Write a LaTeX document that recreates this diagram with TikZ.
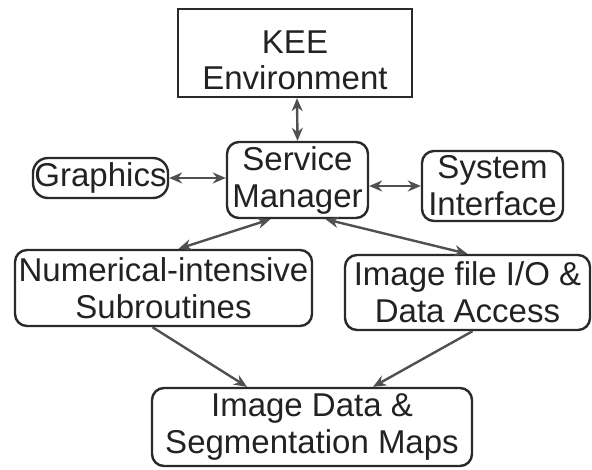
\documentclass[tikz,border=0pt]{standalone}
\usepackage{fontspec}
\setmainfont{Liberation Sans}
\usetikzlibrary{arrows.meta}
\definecolor{boxline}{HTML}{2A2A2A}
\definecolor{arrowline}{HTML}{505050}
\definecolor{txt}{HTML}{222222}
\tikzset{
  blk/.style={draw=boxline, line width=2.4pt, inner sep=0pt, align=center,
    text=txt, font=\fontsize{33}{37}\selectfont},
  rbox/.style={blk, rounded corners=12pt},
  link/.style={draw=arrowline, line width=2.4pt,
    -{Stealth[length=13pt,width=11pt]}},
  dlink/.style={draw=arrowline, line width=2.4pt,
    {Stealth[length=13pt,width=11pt]}-{Stealth[length=13pt,width=11pt]}}
}
\begin{document}
\begin{tikzpicture}[x=1pt,y=-1pt]
\useasboundingbox (0,0) rectangle (592,469);
\node[blk, minimum width=234pt, minimum height=88pt,
  label={[name=keetxt, align=center, text=txt, font=\fontsize{33}{36}\selectfont, yshift=-7pt]center:KEE\\Environment}]
  (kee) at (295,53) {};
\node[rbox, minimum width=141pt, minimum height=76pt] (sm) at (297.5,180) {Service\\Manager};
\node[rbox, rounded corners=15pt, minimum width=135pt, minimum height=40pt] (gr) at (100.5,178) {Graphics};
\node[rbox, minimum width=141pt, minimum height=70pt] (si) at (492.5,186) {System\\Interface};
\node[rbox, minimum width=297pt, minimum height=76pt] (num) at (163.5,288) {Numerical-intensive\\Subroutines};
\node[rbox, minimum width=245pt, minimum height=75pt] (file) at (467.5,292.5) {Image file I/O \&\\Data Access};
\node[rbox, minimum width=320pt, minimum height=78pt] (data) at (312,427) {Image Data \&\\Segmentation Maps};

\draw[dlink] ([xshift=2pt]kee.south) -- (sm.north);
\draw[dlink] (gr.east) -- (gr.east -| sm.west);
\draw[dlink] (sm.east |- si.west) -- (si.west);
\draw[dlink] ([xshift=-27pt]sm.south) -- ([xshift=15pt]num.north);
\draw[dlink] ([xshift=28pt]sm.south) -- (file.north);
\draw[link] ([xshift=-11pt]num.south) -- ([xshift=-65pt]data.north);
\draw[link] ([xshift=5pt]file.south) -- ([xshift=61pt]data.north);
\end{tikzpicture}
\end{document}
